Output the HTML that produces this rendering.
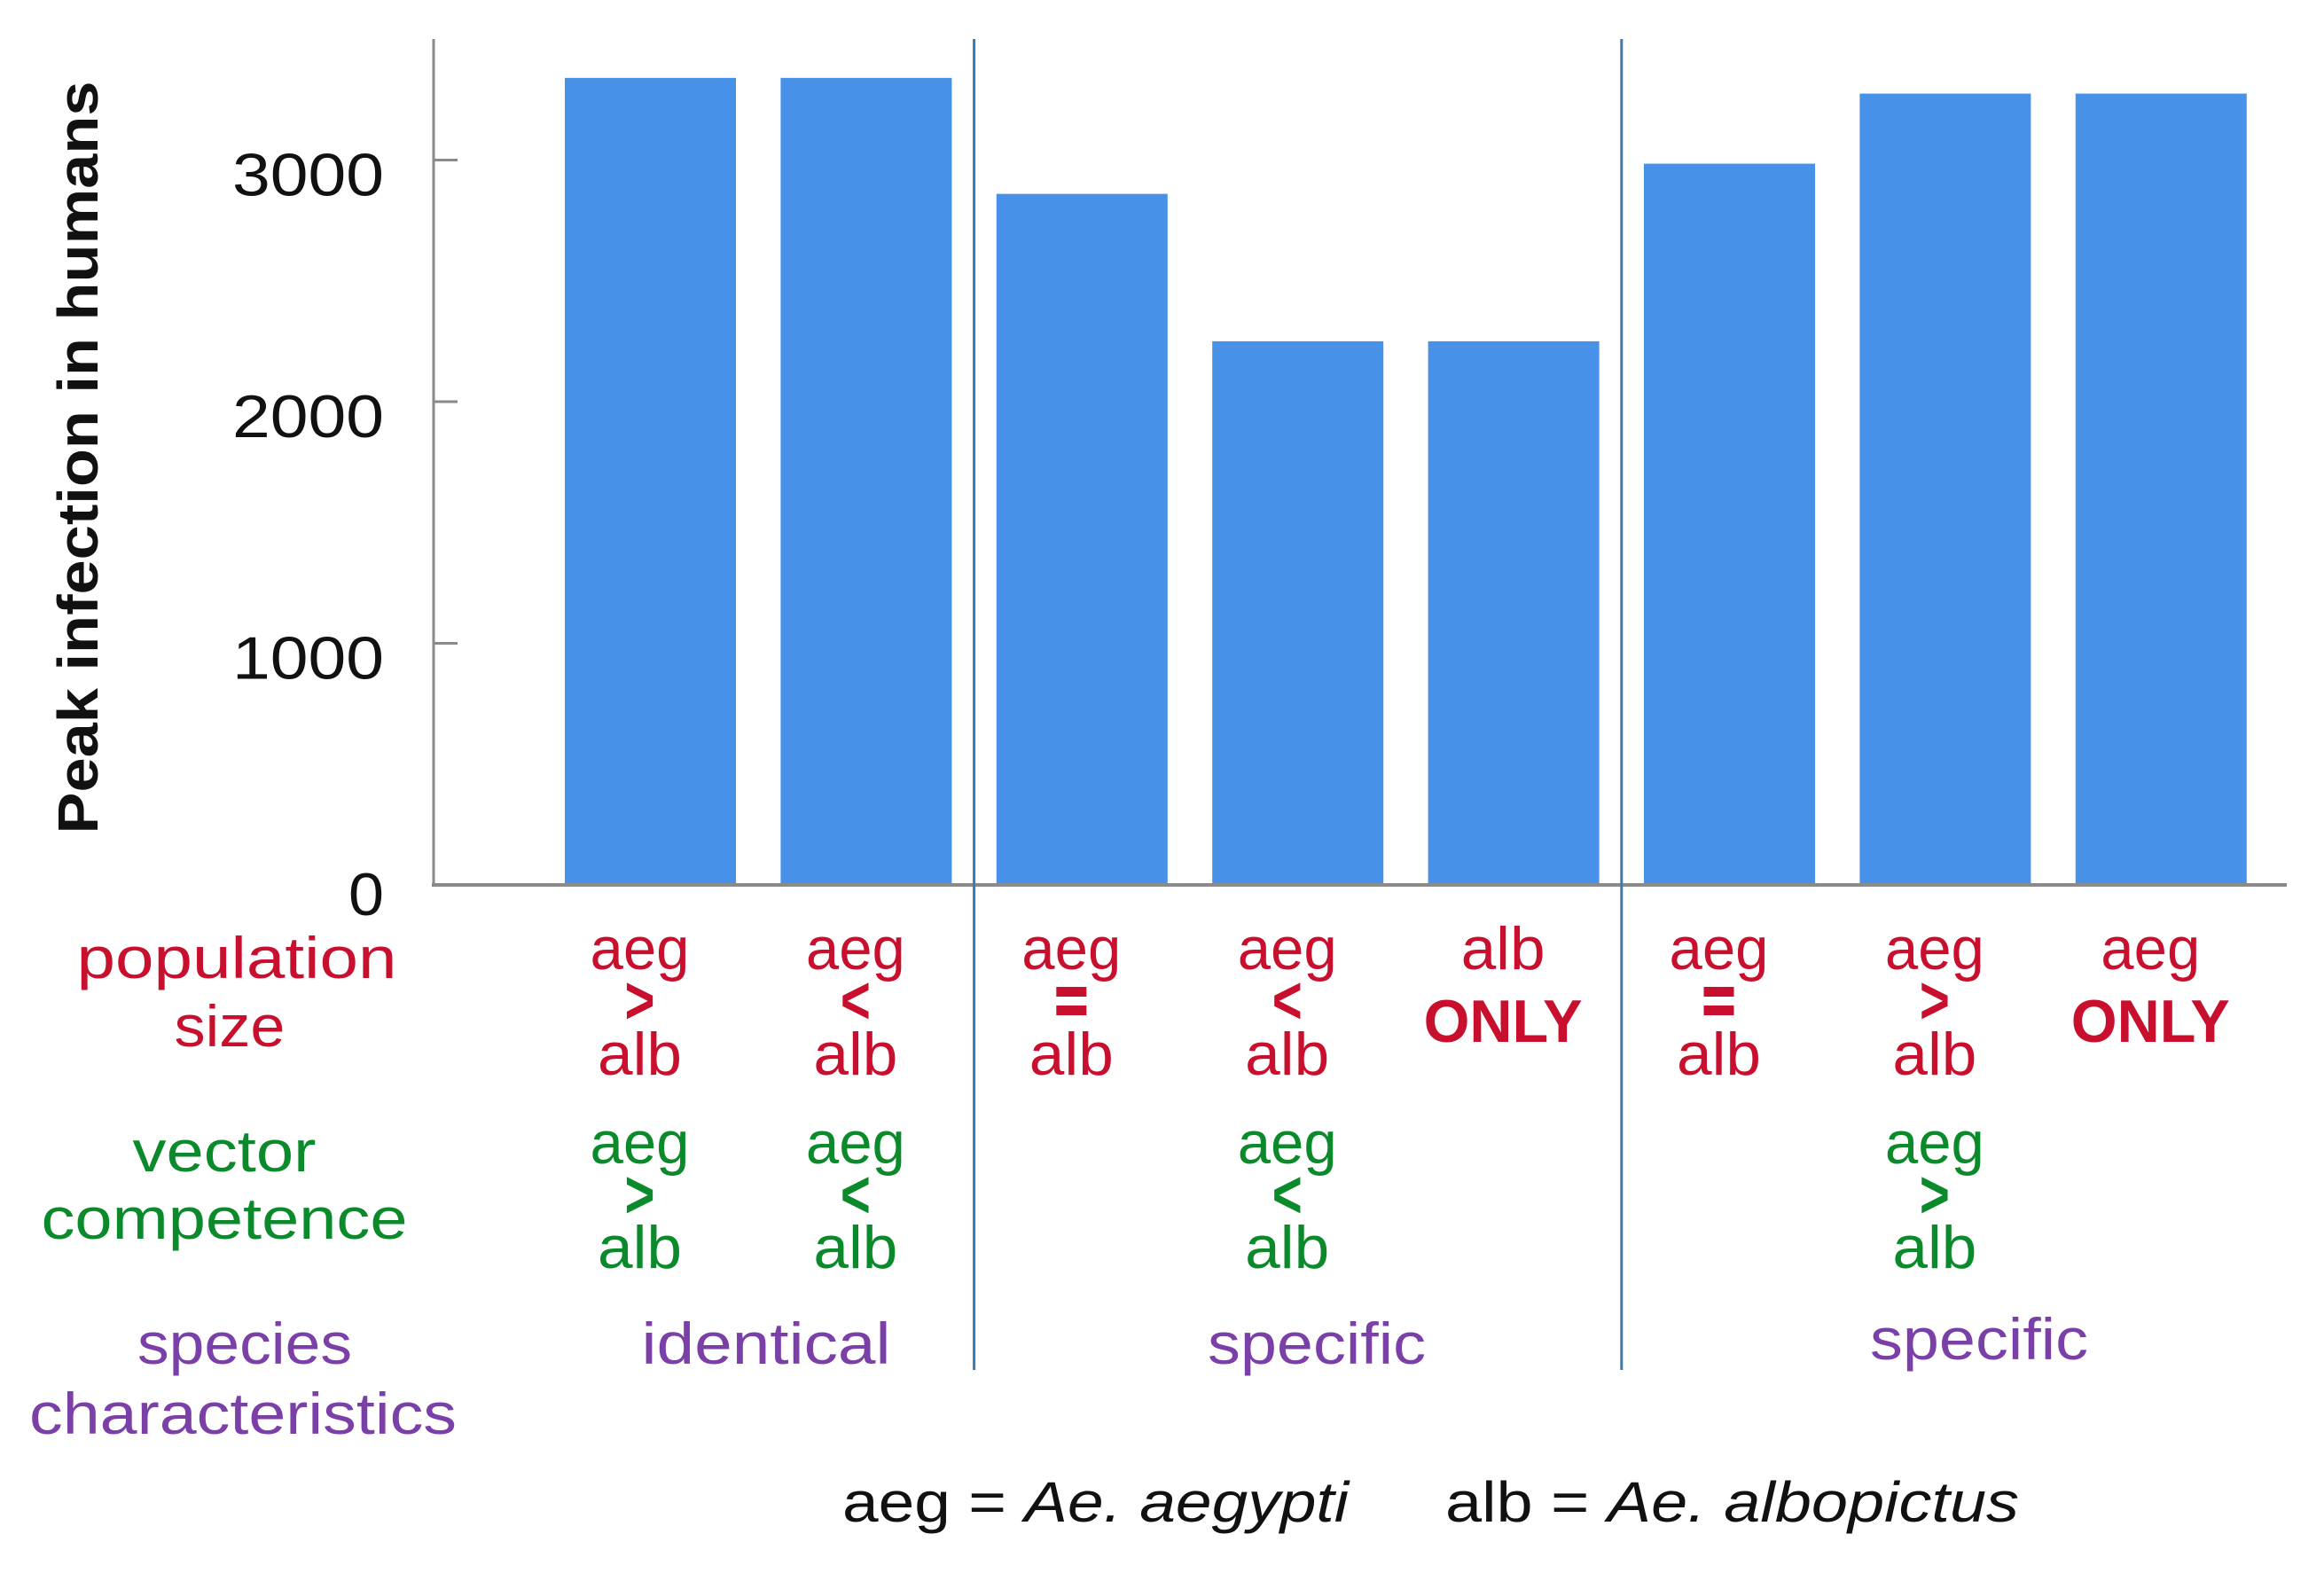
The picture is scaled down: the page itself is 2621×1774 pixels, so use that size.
<!DOCTYPE html>
<html><head><meta charset="utf-8"><style>
html,body{margin:0;padding:0;background:#fff;}
svg{display:block;font-family:"Liberation Sans",sans-serif;}
</style></head><body>
<svg id="chart" width="2621" height="1774" viewBox="0 0 2621 1774" xmlns="http://www.w3.org/2000/svg">
<g id="bars"></g>
<g id="axes"></g>
<g id="labels"></g>
<text transform="translate(110,516) rotate(-90)" text-anchor="middle" font-size="64" font-weight="bold" fill="#111" textLength="849" lengthAdjust="spacingAndGlyphs">Peak infection in humans</text>
<text x="267" y="1103" text-anchor="middle" font-size="66" fill="#c8102e" textLength="361" lengthAdjust="spacingAndGlyphs">population</text>
<text x="259" y="1180" text-anchor="middle" font-size="66" fill="#c8102e" textLength="125" lengthAdjust="spacingAndGlyphs">size</text>
<text x="253" y="1321" text-anchor="middle" font-size="66" fill="#0a8a2a" textLength="207" lengthAdjust="spacingAndGlyphs">vector</text>
<text x="253" y="1397" text-anchor="middle" font-size="66" fill="#0a8a2a" textLength="413" lengthAdjust="spacingAndGlyphs">competence</text>
<text x="276" y="1538" text-anchor="middle" font-size="66" fill="#7b3fa8" textLength="242" lengthAdjust="spacingAndGlyphs">species</text>
<text x="274" y="1617" text-anchor="middle" font-size="66" fill="#7b3fa8" textLength="482" lengthAdjust="spacingAndGlyphs">characteristics</text>
<text x="864" y="1538" text-anchor="middle" font-size="66" fill="#7b3fa8" textLength="281" lengthAdjust="spacingAndGlyphs">identical</text>
<text x="1485" y="1538" text-anchor="middle" font-size="66" fill="#7b3fa8" textLength="246" lengthAdjust="spacingAndGlyphs">specific</text>
<text x="2232" y="1533" text-anchor="middle" font-size="66" fill="#7b3fa8" textLength="246" lengthAdjust="spacingAndGlyphs">specific</text>
<text x="950" y="1716" font-size="64" fill="#111" textLength="571" lengthAdjust="spacingAndGlyphs">aeg = <tspan font-style="italic">Ae. aegypti</tspan></text>
<text x="1630" y="1716" font-size="64" fill="#111" textLength="647" lengthAdjust="spacingAndGlyphs">alb = <tspan font-style="italic">Ae. albopictus</tspan></text>
</svg>
<script>
const categories = ["s1","s2","s3","s4","s5","s6","s7","s8"];
const values = [3340, 3340, 2860, 2250, 2250, 2985, 3275, 3275];
const yTicks = [0, 1000, 2000, 3000];
const popTop = ["aeg","aeg","aeg","aeg","alb","aeg","aeg","aeg"];
const popSym = [">","<","=","<","ONLY","=",">","ONLY"];
const popBottom = ["alb","alb","alb","alb","","alb","alb",""];
const vecTop = ["aeg","aeg","","aeg","","","aeg",""];
const vecSym = [">","<","","<","","",">",""];
const vecBottom = ["alb","alb","","alb","","","alb",""];
const dividerAfter = [1, 4];

const NS = "http://www.w3.org/2000/svg";
const y0 = 998, pxPerUnit = 0.2725;
function yScale(v){ return y0 - v * pxPerUnit; }
function xCenter(i){ return 733.5 + 243.4 * i; }
const barW = 193;
function mk(tag, attrs, parent){
  const e = document.createElementNS(NS, tag);
  for (const k in attrs) e.setAttribute(k, attrs[k]);
  parent.appendChild(e); return e;
}
const bars = document.getElementById('bars');
const axes = document.getElementById('axes');
const labels = document.getElementById('labels');

values.forEach((v, i) => {
  const r = mk('rect', {x: xCenter(i) - barW/2, y: yScale(v), width: barW, height: y0 - yScale(v), fill: '#4791e9'}, bars);
  
  
});

const ya = mk('line', {x1: 489, y1: 44, x2: 489, y2: y0, stroke: '#8a8a8a', 'stroke-width': 3}, axes);


const xa = mk('line', {x1: 487, y1: y0, x2: 2579, y2: y0, stroke: '#8a8a8a', 'stroke-width': 4}, axes);



yTicks.forEach(t => {
  if (t > 0) {
    const tk = mk('line', {x1: 489, y1: yScale(t), x2: 516, y2: yScale(t), stroke: '#8a8a8a', 'stroke-width': 3}, axes);
    
    
  }
  const tl = mk('text', {x: 433, y: yScale(t) + (t === 0 ? 34 : 40), 'text-anchor': 'end', 'font-size': 68, fill: '#111', textLength: String(t).length === 1 ? 40 : 171, lengthAdjust: 'spacingAndGlyphs'}, axes);
  tl.textContent = String(t);
  
  
});

dividerAfter.forEach(i => {
  const x = (xCenter(i) + xCenter(i+1)) / 2;
  const d = mk('line', {x1: x, y1: 44, x2: x, y2: 1545, stroke: '#3d7ab0', 'stroke-width': 3}, axes);
  
  
});

function word(txt, x, y, color, w, bold){
  const t = mk('text', {x: x, y: y, 'text-anchor': 'middle', 'font-size': 68, fill: color, textLength: w, lengthAdjust: 'spacingAndGlyphs'}, labels);
  if (bold) t.setAttribute('font-weight', 'bold');
  t.textContent = txt;
  
  
}
function sym(s, x, yMid, color){
  if (s === "=") {
    const a = mk('rect', {x: x - 17, y: yMid - 19, width: 34, height: 11, fill: color}, labels);
    
    
    const b = mk('rect', {x: x - 17, y: yMid + 2, width: 34, height: 11, fill: color}, labels);
    
    
    return;
  }
  const t = mk('text', {x: x, y: yMid + 22, 'text-anchor': 'middle', 'font-size': 76, 'font-weight': 'bold', fill: color, textLength: 34, lengthAdjust: 'spacingAndGlyphs'}, labels);
  t.textContent = s;
  
  
}
const red = '#c8102e', green = '#0a8a2a';
categories.forEach((c, i) => {
  const x = xCenter(i) - 12;
  if (popSym[i] === "ONLY") {
    word(popTop[i], x, 1093, red, popTop[i] === 'aeg' ? 112 : 95, false);
    word("ONLY", x, 1175, red, 179, true);
  } else {
    word(popTop[i], x, 1093, red, 112, false);
    sym(popSym[i], x, 1132, red);
    word(popBottom[i], x, 1212, red, 95, false);
  }
  if (vecTop[i]) {
    word(vecTop[i], x, 1312, green, 112, false);
    sym(vecSym[i], x, 1351, green);
    word(vecBottom[i], x, 1430, green, 95, false);
  }
});
</script>
</body></html>
